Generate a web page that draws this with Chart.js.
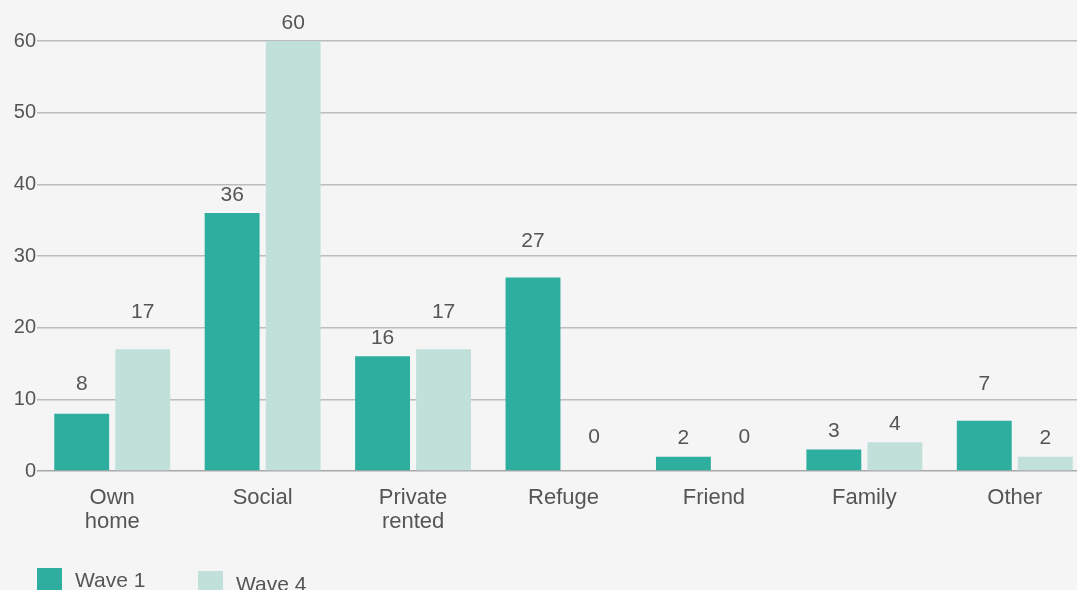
<!DOCTYPE html>
<html>
<head>
<meta charset="utf-8">
<script src="https://cdn.jsdelivr.net/npm/chart.js@4.4.1/dist/chart.umd.min.js"></script>
<style>
  html, body { margin: 0; padding: 0; background: #f5f5f5; overflow: hidden; }
  #wrap { position: relative; width: 1077px; height: 590px; overflow: hidden; }
  canvas { position: absolute; left: 0; top: 0; }
  .legend-item { position: absolute; font-family: 'Liberation Sans', Arial, sans-serif; font-size: 21px; line-height: 21px; color: #555; }
  .legend-box { position: absolute; width: 25px; height: 25px; }
</style>
</head>
<body>
<div id="wrap">
  <canvas id="housingChart" width="1090" height="590"></canvas>
  <div class="legend-box" style="left:37px; top:568px; background:#2eae9e;"></div>
  <div class="legend-item" style="left:75px; top:569px;">Wave 1</div>
  <div class="legend-box" style="left:198px; top:571px; background:#c1e0da;"></div>
  <div class="legend-item" style="left:236px; top:573px;">Wave 4</div>
</div>
<script>
// Chart data
const categories = [['Own', 'home'], 'Social', ['Private', 'rented'], 'Refuge', 'Friend', 'Family', 'Other'];
const wave1 = [8, 36, 16, 27, 2, 3, 7];
const wave4 = [17, 60, 17, 0, 0, 4, 2];
const yMax = 60;
const yStep = 10;

const textColor = '#555555';
const fontFamily = "'Liberation Sans', Arial, sans-serif";

// Draw the value above each bar, nudged above a gridline if it would sit on one
const valueLabels = {
  id: 'valueLabels',
  afterDatasetsDraw(chart) {
    const ctx = chart.ctx;
    const yScale = chart.scales.y;
    const gridYs = yScale.ticks.map(t => yScale.getPixelForValue(t.value));
    ctx.save();
    ctx.font = '21px ' + fontFamily;
    ctx.fillStyle = textColor;
    ctx.textAlign = 'center';
    ctx.textBaseline = 'middle';
    chart.data.datasets.forEach((ds, i) => {
      const meta = chart.getDatasetMeta(i);
      meta.data.forEach((bar, j) => {
        let y = ds.data[j] === 0 ? bar.y - 34 : bar.y - 18;
        const hit = gridYs.find(g => Math.abs(g - y) < 9 && g < bar.y - 1);
        if (hit !== undefined) y = hit - 15;
        ctx.fillText(ds.data[j], bar.x, y);
      });
    });
    ctx.restore();
  }
};

const ctx = document.getElementById('housingChart').getContext('2d');
new Chart(ctx, {
  type: 'bar',
  data: {
    labels: categories,
    datasets: [
      {
        label: 'Wave 1',
        data: wave1,
        backgroundColor: '#2eae9e',
        categoryPercentage: 0.811,
        barPercentage: 0.9
      },
      {
        label: 'Wave 4',
        data: wave4,
        backgroundColor: '#c1e0da',
        categoryPercentage: 0.811,
        barPercentage: 0.9
      }
    ]
  },
  options: {
    responsive: false,
    animation: false,
    devicePixelRatio: 1,
    layout: { padding: { top: 41, left: 0, right: 0, bottom: 0 } },
    plugins: {
      legend: { display: false },
      tooltip: { enabled: false }
    },
    scales: {
      x: {
        grid: { display: false, drawTicks: false },
        border: { display: false },
        ticks: {
          color: textColor,
          padding: 15,
          maxRotation: 0,
          autoSkip: false,
          font: { family: fontFamily, size: 22, lineHeight: 1.1 }
        },
        afterFit(scale) { scale.height = 119; }
      },
      y: {
        min: 0,
        max: yMax,
        border: { display: false },
        grid: {
          drawTicks: false,
          lineWidth: 1.5,
          color: (c) => c.tick && c.tick.value === 0 ? '#a8a8a8' : '#bcbcbc'
        },
        ticks: {
          stepSize: yStep,
          color: textColor,
          padding: 1,
          font: { family: fontFamily, size: 20 }
        },
        afterFit(scale) { scale.width = 37; }
      }
    }
  },
  plugins: [valueLabels]
});
</script>
</body>
</html>
